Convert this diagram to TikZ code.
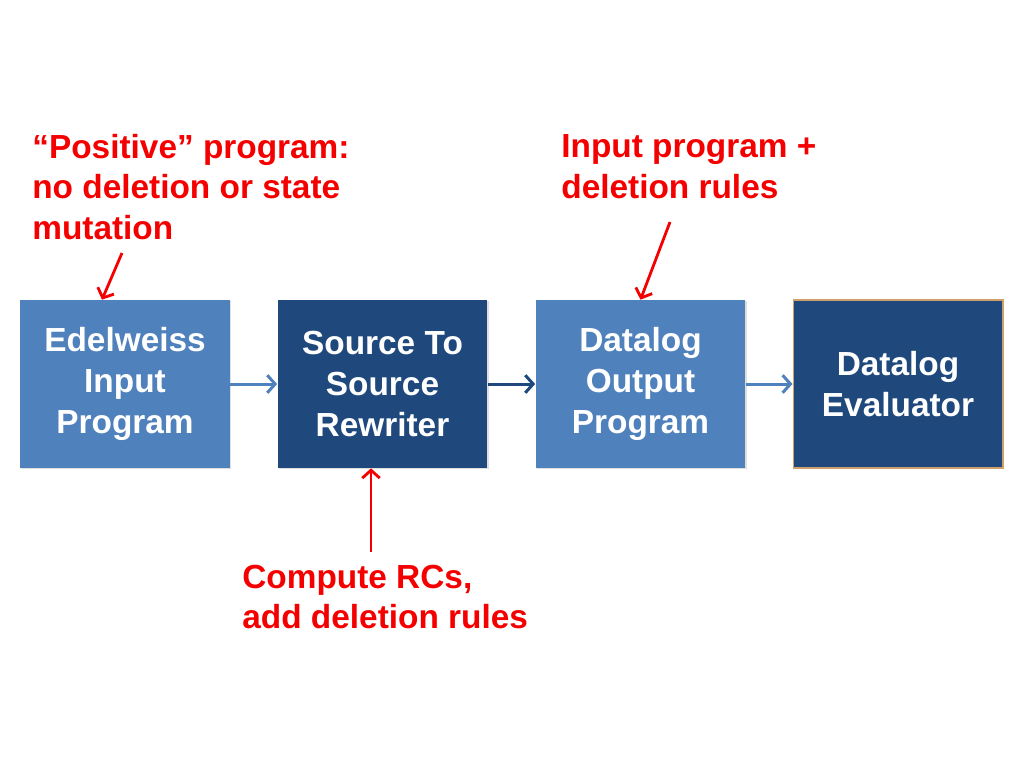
\documentclass[tikz,border=0pt]{standalone}
\usepackage{fontspec}
\setmainfont{Liberation Sans}
\usepackage{tikz}
\usetikzlibrary{arrows.meta,calc,shadows}

\definecolor{lightbox}{RGB}{79,129,189}
\definecolor{darkbox}{RGB}{31,73,125}
\definecolor{noteRed}{RGB}{245,0,0}

\tikzset{
	stage/.style={minimum width=4.2cm,minimum height=3.36cm,inner sep=0pt,
		text=white,font=\fontsize{19}{23.3}\selectfont\bfseries,align=center,
		drop shadow={opacity=0.25,shadow xshift=0.6pt,shadow yshift=-0.8pt}},
	note/.style={anchor=west,inner sep=0pt,text=noteRed,align=left,
		font=\fontsize{19}{23.3}\selectfont\bfseries},
	flow/.style={line width=1.7pt,-{Straight Barb[length=4.5pt,width=10pt,line width=1.7pt]}},
	hint/.style={noteRed,line width=1.6pt,-{Straight Barb[length=4.5pt,width=10pt,line width=1.6pt]}}
}

\begin{document}
\begin{tikzpicture}[x=0.02cm,y=-0.02cm]

	\useasboundingbox (0,0) rectangle (1024,768);

	\node[stage,fill=lightbox] (edel) at (125,384) {Edelweiss\\Input\\Program};
	\node[stage,fill=darkbox] (rewr) at (382.5,384) {Source To\\Source\\Rewriter};
	\node[stage,fill=lightbox] (dout) at (640.5,384) {Datalog\\Output\\Program};
	\node[stage,fill=darkbox,draw={rgb,255:red,205;green,160;blue,110},line width=0.6pt] (eval) at (898,384) {Datalog\\Evaluator};

	\node[note] (posit) at (32,187) {“Positive” program:\\no deletion or state\\mutation};
	\node[note] (inprog) at (561,167) {Input program +\\deletion rules};
	\node[note] (rcs) at (242,597) {Compute RCs,\\add deletion rules};

	\coordinate (p1) at (122,253);
	\coordinate (p2) at (670,222);
	\coordinate (p3) at (371,552);

	\draw[flow,lightbox] (edel) -- (rewr);
	\draw[flow,darkbox] (rewr) -- (dout);
	\draw[flow,lightbox] (dout) -- (eval);

	\draw[hint] (p1) -- ($(edel.north)+(-23,0)$);
	\draw[hint] (p2) -- (dout.north);
	\draw[hint] (p3) -- ($(rewr.south)+(-11.5,0)$);

\end{tikzpicture}
\end{document}
